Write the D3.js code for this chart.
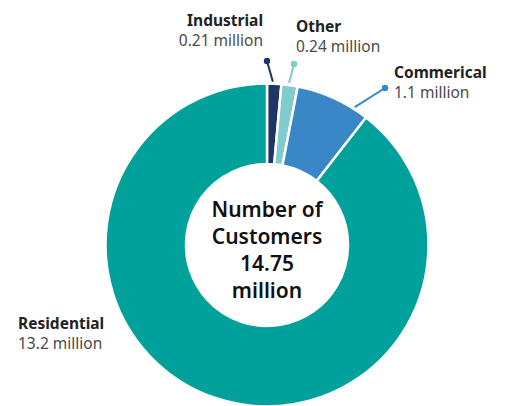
<!DOCTYPE html>
<html>
<head>
<meta charset="utf-8">
<script src="https://cdn.jsdelivr.net/npm/d3@7"></script>
<style>
  body { margin: 0; background: #fff; }
  svg { display: block; font-family: "Noto Sans", sans-serif; }
  .name { font-weight: 700; fill: #222; font-size: 15.5px; }
  .value { fill: #4a4a4a; font-size: 15.5px; }
  .centre { font-weight: 600; fill: #111; font-size: 21px; }
</style>
</head>
<body>
<div class="customers-donut"></div>
<script>

////////// DATA //////////

var categories = ["Industrial", "Other", "Commerical", "Residential"];
var customers = [0.21, 0.24, 1.1, 13.2];   // millions
var valueLabels = ["0.21 million", "0.24 million", "1.1 million", "13.2 million"];
var centreLines = ["Number of", "Customers", "14.75", "million"];


////////// SETUP //////////

var width = 507,
    height = 406;

var cx = 267, cy = 245;
var outerRadius = 161.5,
    innerRadius = 81;

var colours = d3.scaleOrdinal()
    .domain(categories)
    .range(["#1f3566", "#7ecbd0", "#3a87c8", "#00a19a"]);

var data = categories.map(function(c, i) {
  return { name: c, value: customers[i], label: valueLabels[i] };
});

var svg = d3.select(".customers-donut")
  .append("svg")
    .attr("width", width)
    .attr("height", height);

var g = svg.append("g")
    .attr("transform", "translate(" + cx + "," + cy + ")");


////////// DONUT //////////

var pie = d3.pie()
    .sort(null)
    .value(function(d) { return d.value; });

var arc = d3.arc()
    .innerRadius(innerRadius)
    .outerRadius(outerRadius);

var arcs = pie(data);

g.selectAll(".slice")
    .data(arcs)
    .enter()
    .append("path")
    .attr("class", "slice")
    .attr("d", arc)
    .attr("fill", function(d) { return colours(d.data.name); })
    .attr("stroke", "white")
    .attr("stroke-width", 2.5);


////////// LABELS //////////

// where the leader line leaves the slice (fraction of its angle),
// where it ends (relative to donut centre) and where the label goes
var callouts = {
  "Industrial":  { at: 0.4, dot: [0, -184], text: [-4, -219], anchor: "end" },
  "Other":       { at: 0.45, dot: [27, -181], text: [29, -213], anchor: "start" },
  "Commerical":  { at: 0.8, dot: [118, -157], text: [127, -167], anchor: "start" },
  "Residential": { at: null, dot: null, text: [-249, 84], anchor: "start" }
};

arcs.forEach(function(d) {
  var c = callouts[d.data.name];
  var col = colours(d.data.name);
  if (c.dot) {
    var a = d.startAngle + (d.endAngle - d.startAngle) * c.at;
    var r0 = outerRadius + 2;
    var p0 = [Math.sin(a) * r0, -Math.cos(a) * r0];
    g.append("line")
        .attr("x1", p0[0]).attr("y1", p0[1])
        .attr("x2", c.dot[0]).attr("y2", c.dot[1])
        .attr("stroke", col)
        .attr("stroke-width", 2);
    g.append("circle")
        .attr("cx", c.dot[0]).attr("cy", c.dot[1])
        .attr("r", 3.2)
        .attr("fill", col);
  }
  var t = g.append("text")
      .attr("x", c.text[0])
      .attr("y", c.text[1])
      .attr("text-anchor", c.anchor);
  t.append("tspan")
      .attr("class", "name")
      .attr("x", c.text[0])
      .text(d.data.name);
  t.append("tspan")
      .attr("class", "value")
      .attr("x", c.text[0])
      .attr("dy", 20)
      .text(d.data.label);
});


////////// CENTRE //////////

g.selectAll(".centre")
    .data(centreLines)
    .enter()
    .append("text")
    .attr("class", "centre")
    .attr("text-anchor", "middle")
    .attr("y", function(d, i) { return -28 + i * 27; })
    .text(function(d) { return d; });

</script>
</body>
</html>
